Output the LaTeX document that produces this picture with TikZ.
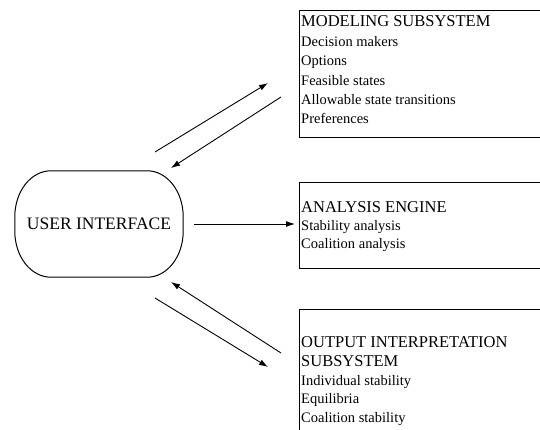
\documentclass[tikz,border=0pt]{standalone}
\usepackage{fontspec}
\setmainfont{Liberation Serif}
\usetikzlibrary{arrows.meta}
\tikzset{
  box/.style={draw, line width=1pt, anchor=north west, inner sep=0pt},
  ttl/.style={font=\fontsize{16.5}{20}\selectfont, anchor=base west, inner sep=0pt},
  itm/.style={font=\fontsize{14.5}{18}\selectfont, anchor=base west, inner sep=0pt},
  conn/.style={line width=0.9pt, -{Latex[length=9pt,width=6pt]}},
}
\begin{document}
\begin{tikzpicture}[x=1pt,y=-1pt]
\path[use as bounding box, fill=white] (0,0) rectangle (540,430);
\clip (0,0) rectangle (540,430);

% boxes
\node[box, minimum width=260pt, minimum height=127pt] (mod) at (299,10) {};
\node[box, minimum width=260pt, minimum height=86pt] (ana) at (299,182) {};
\node[box, minimum width=260pt, minimum height=140pt] (out) at (299,309) {};

% modeling text
\node[ttl] (m0) at (301,27) {MODELING SUBSYSTEM};
\node[itm] (m1) at (301,47) {Decision makers};
\node[itm] (m2) at (301,66) {Options};
\node[itm] (m3) at (301,85.5) {Feasible states};
\node[itm] (m4) at (301,105) {Allowable state transitions};
\node[itm] (m5) at (301,124) {Preferences};

% analysis text
\node[ttl] (a0) at (301,213) {ANALYSIS ENGINE};
\node[itm] (a1) at (301,230) {Stability analysis};
\node[itm] (a2) at (301,248.5) {Coalition analysis};

% output text
\node[ttl] (o0) at (301,347) {OUTPUT INTERPRETATION};
\node[ttl] (o1) at (301,366) {SUBSYSTEM};
\node[itm] (o2) at (301,385) {Individual stability};
\node[itm] (o3) at (301,403.5) {Equilibria};
\node[itm] (o4) at (301,422) {Coalition stability};

% user interface
\node[minimum width=168pt, minimum height=106pt, inner sep=0pt,
      font=\fontsize{17.5}{21}\selectfont] (ui) at (99,224) {USER INTERFACE};
\draw[line width=1pt]
  ([xshift=36pt]ui.north west) -- ([xshift=-36pt]ui.north east)
  arc[start angle=90, end angle=0, x radius=36pt, y radius=46pt]
  -- ([yshift=46pt]ui.south east)
  arc[start angle=0, end angle=-90, x radius=36pt, y radius=46pt]
  -- ([xshift=36pt]ui.south west)
  arc[start angle=-90, end angle=-180, x radius=36pt, y radius=46pt]
  -- ([yshift=-46pt]ui.north west)
  arc[start angle=180, end angle=90, x radius=36pt, y radius=46pt]
  -- cycle;

% connector end points
\coordinate (u1) at (155,152);
\coordinate (m1t) at (268,83);
\coordinate (m2s) at (281,97);
\coordinate (u2) at (171,168);
\coordinate (u3) at (155,298);
\coordinate (o3t) at (268,367);
\coordinate (o4s) at (281,353);
\coordinate (u4) at (171,282);
\coordinate (u5) at (194,224);
\coordinate (a5) at (295,224);

\draw[conn] (u1) -- (m1t);
\draw[conn] (m2s) -- (u2);
\draw[conn] (u5) -- (a5);
\draw[conn] (o4s) -- (u4);
\draw[conn] (u3) -- (o3t);
\end{tikzpicture}
\end{document}
